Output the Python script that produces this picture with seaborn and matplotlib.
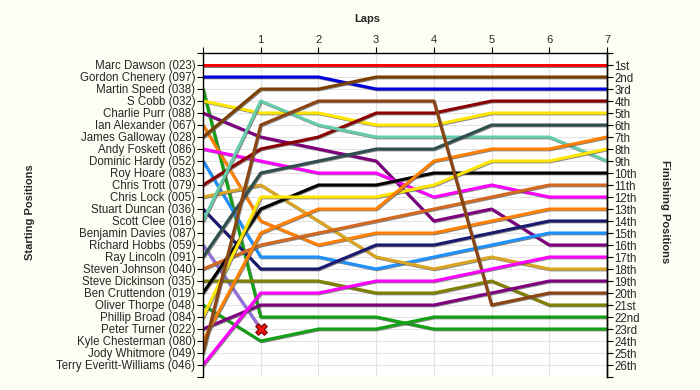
import pandas as pd
import matplotlib
matplotlib.use('Agg')
import matplotlib.pyplot as plt
import matplotlib.patheffects as pe
import seaborn as sns

# pilotos na ordem de largada
drivers = ['Marc Dawson (023)', 'Gordon Chenery (097)', 'Martin Speed (038)', 'S Cobb (032)',
           'Charlie Purr (088)', 'Ian Alexander (067)', 'James Galloway (028)', 'Andy Foskett (086)',
           'Dominic Hardy (052)', 'Roy Hoare (083)', 'Chris Trott (079)', 'Chris Lock (005)',
           'Stuart Duncan (036)', 'Scott Clee (016)', 'Benjamin Davies (087)', 'Richard Hobbs (059)',
           'Ray Lincoln (091)', 'Steven Johnson (040)', 'Steve Dickinson (035)', 'Ben Cruttendon (019)',
           'Oliver Thorpe (048)', 'Phillip Broad (084)', 'Peter Turner (022)', 'Kyle Chesterman (080)',
           'Jody Whitmore (049)', 'Terry Everitt-Williams (046)']

colors = ['#FF0000', '#0000DD', '#14A014', '#FFE600', '#7F007F', '#FF8000', '#7B3F00', '#FF00FF',
          '#1E90FF', '#999999', '#8B0000', '#DAA520', '#191970', '#66CDAA', '#999999', '#9370DB',
          '#2F4F4F', '#D2691E', '#808000', '#000000', '#14A014', '#FFE600', '#7F007F', '#FF8000',
          '#8B4513', '#FF00FF']

laps = [0, 1, 2, 3, 4, 5, 6, 7]

# posição de cada piloto em cada volta (None = fora)
lap_0 = [1, 2, 3, 4, 5, 6, 7, 8, 9, None, 11, 12, 13, 14, None, 16, 17, 18, 19, 20, 21, 22, 23, 24, 25, 26]
lap_1 = [1, 2, 22, 5, 7, 14, 3, 9, 17, None, 8, 11, 18, 4, None, 23, 10, 16, 19, 13, 24, 12, 21, 15, 6, 20]
lap_2 = [1, 2, 22, 5, 8, 16, 3, 10, 17, None, 7, 14, 18, 6, None, None, 9, 15, 19, 11, 23, 12, 21, 13, 4, 20]
lap_3 = [1, 3, 22, 6, 9, 15, 2, 10, 18, None, 5, 17, 16, 7, None, None, 8, 14, 20, 11, 23, 12, 21, 13, 4, 19]
lap_4 = [1, 3, 23, 6, 14, 15, 2, 12, 17, None, 5, 18, 16, 7, None, None, 8, 13, 20, 10, 22, 11, 21, 9, 4, 19]
lap_5 = [1, 3, 23, 5, 13, 14, 2, 11, 16, None, 4, 17, 15, 7, None, None, 6, 12, 19, 10, 22, 9, 20, 8, 21, 18]
lap_6 = [1, 3, 23, 5, 16, 13, 2, 12, 15, None, 4, 18, 14, 7, None, None, 6, 11, 21, 10, 22, 9, 19, 8, 20, 17]
lap_7 = [1, 3, 23, 5, 16, 13, 2, 12, 15, None, 4, 18, 14, 9, None, None, 6, 11, 21, 10, 22, 8, 19, 7, 20, 17]

finish_labels = ['1st', '2nd', '3rd', '4th', '5th', '6th', '7th', '8th', '9th', '10th', '11th', '12th',
                 '13th', '14th', '15th', '16th', '17th', '18th', '19th', '20th', '21st', '22nd', '23rd',
                 '24th', '25th', '26th']

retired = ['Richard Hobbs (059)']

sns.set_style('white')
plt.rcParams['font.family'] = ['Liberation Sans', 'DejaVu Sans']

linhas = []
for lap, posicoes in zip(laps, [lap_0, lap_1, lap_2, lap_3, lap_4, lap_5, lap_6, lap_7]):
    for d, p in zip(drivers, posicoes):
        if p is not None:
            linhas.append({'driver': d, 'lap': lap, 'pos': p})
dados = pd.DataFrame(linhas)

paleta = dict(zip(drivers, colors))
usados = [d for d in drivers if d in set(dados['driver'])]

fig = plt.figure(figsize=(7, 3.9), dpi=100, facecolor='#FEFDF4')
ax = fig.add_axes([203/700, 1 - 377/390, (607 - 203)/700, (377 - 53)/390])
ax.set_facecolor('white')

sns.lineplot(data=dados, x='lap', y='pos', hue='driver', hue_order=usados, palette=paleta,
             estimator=None, units='driver', linewidth=2.2, legend=False, ax=ax)
for l in ax.lines:
    l.set_path_effects([pe.SimpleLineShadow(offset=(0.6, -0.6), shadow_color='#555555', alpha=0.7),
                        pe.Normal()])

# marcador de abandono
fim = dados[dados['driver'].isin(retired)].groupby('driver').tail(1)
sns.scatterplot(data=fim, x='lap', y='pos', marker='X', s=70, color='#EE1111',
                edgecolor='#7A0000', linewidth=0.8, zorder=5, ax=ax)

ax.set_xlim(0, 7)
ax.set_ylim(27, 0)
ax.xaxis.tick_top()
ax.set_xticks(laps)
ax.set_xticklabels([''] + [str(l) for l in laps[1:]], fontsize=8)
ax.set_yticks(range(0, 28))
ax.set_yticklabels([''] + drivers + [''], fontsize=8.3)
ax.tick_params(axis='both', length=4, color='black', width=0.8, pad=1.5, left=True, top=True)
ax.grid(True, color='#E3E3E3', linewidth=0.8)
ax.set_axisbelow(True)
ax.set_xlabel('')
ax.set_ylabel('')
for s in ['left', 'top', 'right']:
    ax.spines[s].set_color('black')
    ax.spines[s].set_linewidth(1)
ax.spines['bottom'].set_visible(False)

ax2 = ax.twinx()
ax2.set_ylim(27, 0)
ax2.set_yticks(range(0, 28))
ax2.set_yticklabels([''] + finish_labels + [''], fontsize=8.3)
ax2.tick_params(axis='y', length=4, color='black', width=0.8, pad=1.5, right=True)
for s in ['left', 'top', 'bottom']:
    ax2.spines[s].set_visible(False)
ax2.spines['right'].set_color('black')
ax2.spines['right'].set_linewidth(1)

fig.text(367/700, 1 - 19/390, 'Laps', ha='center', va='center', fontsize=8, fontweight='bold')
fig.text(30/700, 1 - 212/390, 'Starting Positions', ha='center', va='center', rotation=90,
         fontsize=8, fontweight='bold')
fig.text(665/700, 1 - 212/390, 'Finishing Positions', ha='center', va='center', rotation=270,
         fontsize=8, fontweight='bold')

fig.savefig('out.png', dpi=100, facecolor=fig.get_facecolor())
